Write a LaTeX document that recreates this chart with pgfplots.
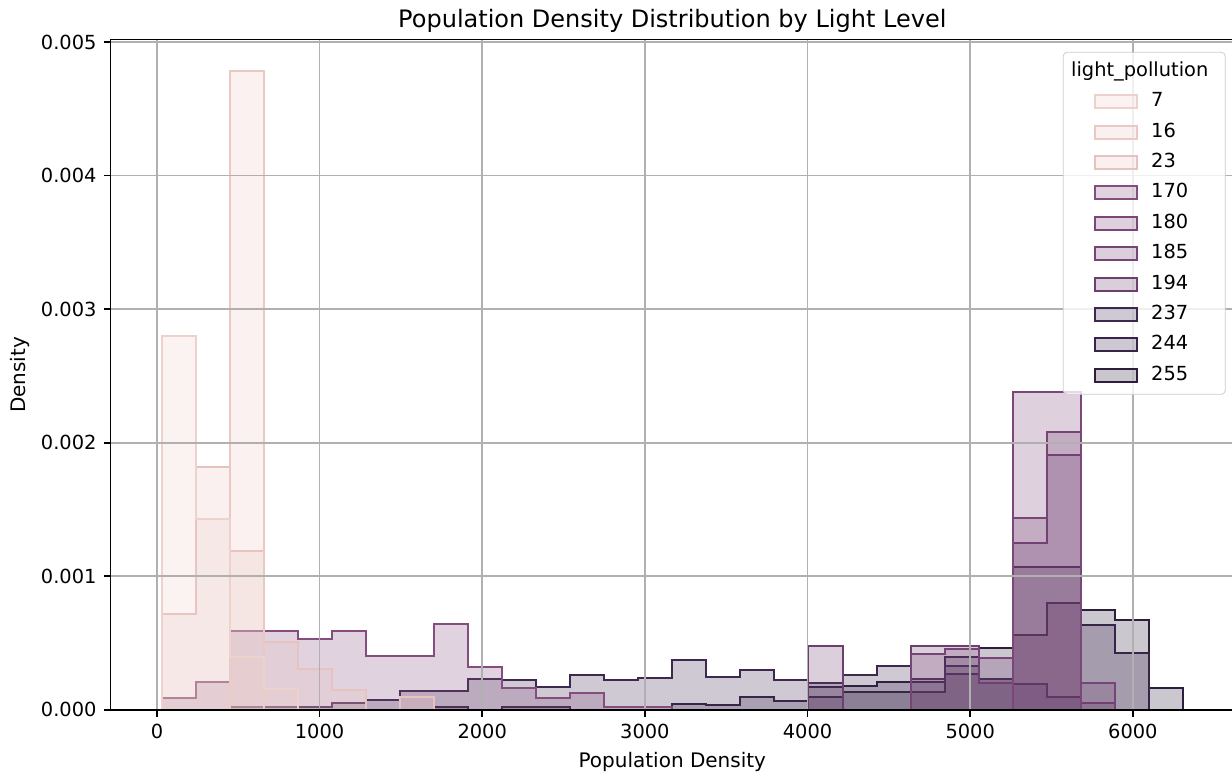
\documentclass[border=0pt]{standalone}
\usepackage{fontspec}
\setmainfont{DejaVu Sans}
\usepackage{pgfplots}
\pgfplotsset{compat=1.18}
\definecolor{c7}{HTML}{EDD1CB}
\definecolor{c16}{HTML}{EAC9C4}
\definecolor{c23}{HTML}{E8C2BF}
\definecolor{c170}{HTML}{854D7E}
\definecolor{c180}{HTML}{7B4779}
\definecolor{c185}{HTML}{764476}
\definecolor{c194}{HTML}{6D3F70}
\definecolor{c237}{HTML}{3F2850}
\definecolor{c244}{HTML}{382449}
\definecolor{c255}{HTML}{2D1E3E}
\definecolor{gridc}{HTML}{B0B0B0}
\begin{document}
\begin{tikzpicture}
\begin{axis}[
  name=ax,
  scale only axis, width=561.8pt, height=335.15pt,
  xmin=-285, xmax=6622, ymin=0, ymax=0.005017,
  axis on top,
  grid=major, grid style={line width=0.8pt, color=gridc},
  axis line style={line width=0.8pt, black},
  tick style={line width=0.8pt, black},
  tick align=outside, major tick length=3.5pt, tick pos=left,
  xtick={0,1000,2000,3000,4000,5000,6000},
  ytick={0,0.001,0.002,0.003,0.004,0.005},
  scaled y ticks=false, scaled x ticks=false,
  /pgf/number format/assume math mode=true,
  xticklabel style={/pgf/number format/.cd, 1000 sep={}},
  yticklabel style={/pgf/number format/.cd, fixed, fixed zerofill, precision=3},
  ticklabel style={font=\fontsize{9.7}{11}\selectfont},
  label style={font=\fontsize{9.9}{12}\selectfont},
  xlabel={Population Density}, ylabel={Density},
  every axis x label/.style={at={(axis description cs:0.5,-0.0776)}, anchor=center},
  every axis y label/.style={at={(axis description cs:-0.0806,0.5)}, rotate=90, anchor=center},
  title={Population Density Distribution by Light Level},
  title style={font=\fontsize{12}{14}\selectfont, yshift=-6pt},
  legend image code/.code={\path (-13.5pt,0pt); \draw[#1, sharp corners] (0pt,-3.25pt) rectangle (21pt,3.25pt);},
  legend cell align=left,
  reverse legend,
  legend style={at={(0.8476,0.9817)}, anchor=north west, draw=black!20, fill=white,
    fill opacity=0.8, text opacity=1, rounded corners=2pt,
    font=\fontsize{9.7}{11}\selectfont, inner xsep=2pt, inner ysep=4pt, row sep=4.2pt,
    nodes={inner xsep=6.5pt, inner ysep=1pt, text height=7pt, text depth=2pt}},
  every axis plot/.append style={const plot, line width=1pt, fill opacity=0.25},
]
\addplot[draw=c255, fill=c255] table {
x y
4005.7 0.000175
4215.0 0.000181
4424.3 0.000212
4633.6 0.000212
4842.9 0.000395
5052.2 0.000466
5261.5 0.000561
5470.8 0.000798
5680.1 0.000749
5889.4 0.000674
6098.7 0.000161
6308.0 0.000161
} \closedcycle;
\addlegendentry{255}

\addplot[draw=c244, fill=c244] table {
x y
1703.4 0.000018
1912.7 0
2122.0 0.000018
2331.3 0.000018
2540.6 0
2749.9 0
2959.2 0
3168.5 0.000045
3377.8 0.000033
3587.1 0.000093
3796.4 0.000063
4005.7 0.000093
4215.0 0.000131
4424.3 0.000131
4633.6 0.000136
4842.9 0.000327
5052.2 0.000232
5261.5 0.001068
5470.8 0.001068
5680.1 0.000636
5889.4 0.000429
6098.7 0.000429
} \closedcycle;
\addlegendentry{244}

\addplot[draw=c237, fill=c237] table {
x y
447.6 0.000018
656.9 0.000018
866.2 0.000018
1075.5 0.000048
1284.8 0.000073
1494.1 0.000144
1703.4 0.000144
1912.7 0.000234
2122.0 0.000227
2331.3 0.000169
2540.6 0.000264
2749.9 0.000227
2959.2 0.000237
3168.5 0.00037
3377.8 0.000244
3587.1 0.000302
3796.4 0.000227
4005.7 0.000199
4215.0 0.000262
4424.3 0.000332
4633.6 0.000232
4842.9 0.000270
5052.2 0.000232
5261.5 0.000195
5470.8 0.00010
5680.1 0.00010
} \closedcycle;
\addlegendentry{237}

\addplot[draw=c194, fill=c194] table {
x y
4005.7 0.000476
4215.0 0
4424.3 0
4633.6 0.000476
4842.9 0.000476
5052.2 0.000199
5261.5 0.001248
5470.8 0.001906
5680.1 0.00005
5889.4 0.00005
} \closedcycle;
\addlegendentry{194}

\addplot[draw=c185, fill=c185] table {
x y
4633.6 0.000421
4842.9 0.000458
5052.2 0.000388
5261.5 0.001435
5470.8 0.002078
5680.1 0.000200
5889.4 0.000200
} \closedcycle;
\addlegendentry{185}

\addplot[draw=c180, fill=c180] table {
x y
5261.5 0.00238
5470.8 0.00238
5680.1 0.00238
} \closedcycle;
\addlegendentry{180}

\addplot[draw=c170, fill=c170] table {
x y
29 0.000086
238.3 0.000212
447.6 0.000587
656.9 0.000587
866.2 0.000529
1075.5 0.000587
1284.8 0.00040
1494.1 0.00040
1703.4 0.000642
1912.7 0.00032
2122.0 0.000164
2331.3 0.000086
2540.6 0.000123
2749.9 0.000023
2959.2 0.000023
3168.5 0.000023
} \closedcycle;
\addlegendentry{170}

\addplot[draw=c23, fill=c23] table {
x y
29 0.00072
238.3 0.00182
447.6 0.00119
656.9 0.000506
866.2 0.000307
1075.5 0.00015
1284.8 0
1494.1 0.0001
1703.4 0.0001
} \closedcycle;
\addlegendentry{23}

\addplot[draw=c16, fill=c16] table {
x y
447.6 0.00478
656.9 0.00478
} \closedcycle;
\addlegendentry{16}

\addplot[draw=c7, fill=c7] table {
x y
29 0.00280
238.3 0.00143
447.6 0.000395
656.9 0.00016
866.2 0.00016
} \closedcycle;
\addlegendentry{7}

\addlegendimage{empty legend}
\addlegendentry{\hspace*{-40pt}light\_pollution}
\end{axis}
\pgfresetboundingbox
\path[use as bounding box] ([xshift=-55.3pt,yshift=-32pt]ax.south west) rectangle ([xshift=-1pt,yshift=19.85pt]ax.north east);
\end{tikzpicture}
\end{document}
